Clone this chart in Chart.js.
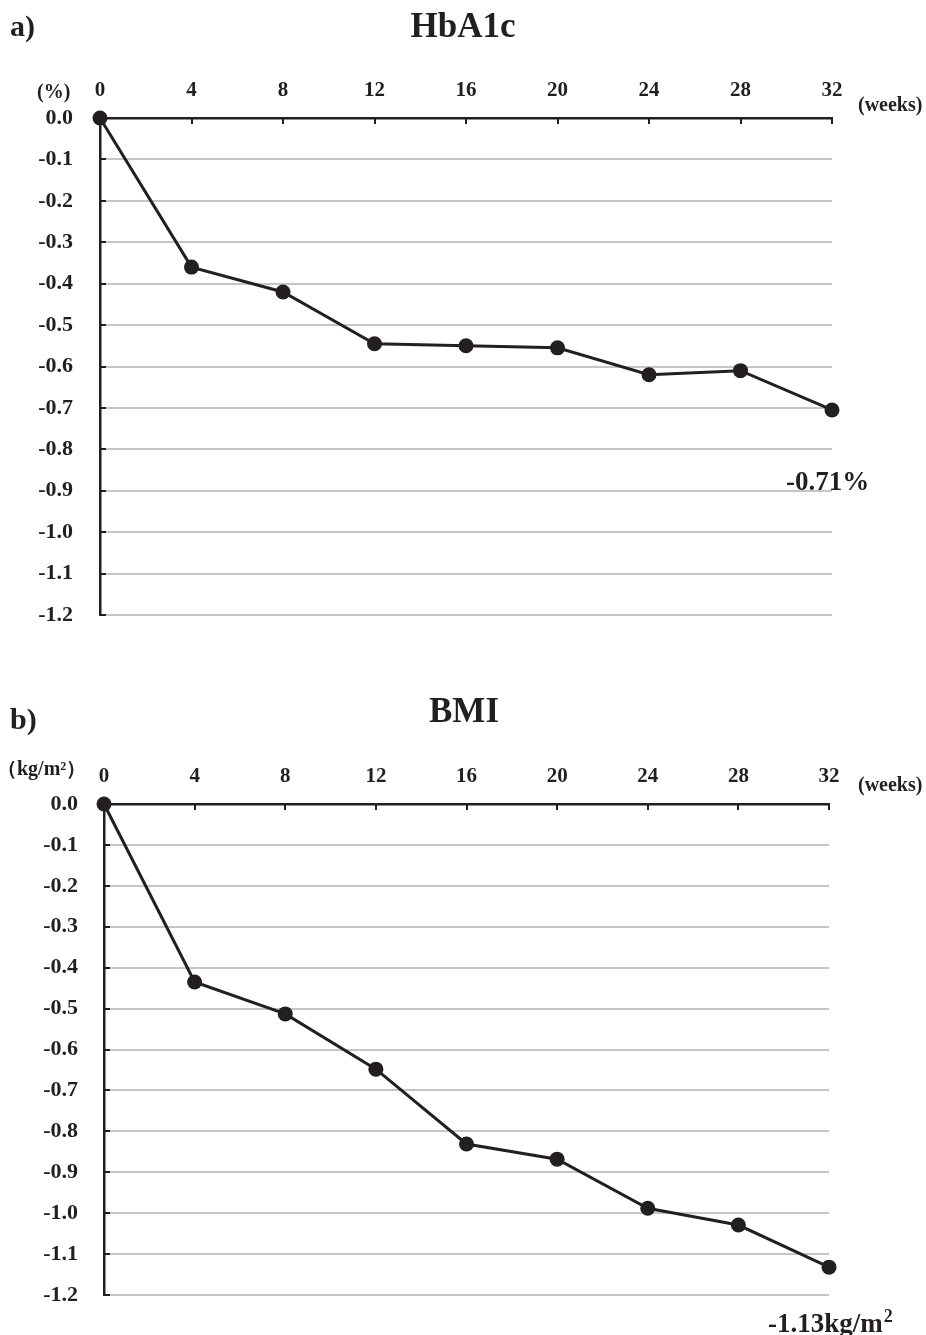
<!DOCTYPE html>
<html>
<head>
<meta charset="utf-8">
<script src="https://cdn.jsdelivr.net/npm/chart.js@4"></script>
<style>
  html, body { margin: 0; padding: 0; background: #fff; }
  body { width: 926px; height: 1335px; position: relative; overflow: hidden; }
  canvas { position: absolute; left: 0; }
</style>
</head>
<body>
<canvas id="chartA" width="926" height="660" style="top:0px"></canvas>
<canvas id="chartB" width="926" height="655" style="top:680px"></canvas>
<script>
// ---- data ----
const weeks = [0, 4, 8, 12, 16, 20, 24, 28, 32];
const hba1cChange = [0, -0.36, -0.42, -0.545, -0.55, -0.555, -0.62, -0.61, -0.705];
const bmiChange = [0, -0.435, -0.513, -0.648, -0.831, -0.868, -0.988, -1.029, -1.132];
const yMin = -1.2;
const yMax = 0;
const yStep = 0.1;
const xStep = 4;

const INK = "#231f20";
const SERIF = "'Liberation Serif', 'Times New Roman', serif";

// draws panel letter, title, units, end label and the small inward ticks
const extrasPlugin = {
  id: "extras",
  afterDraw(chart) {
    const o = chart.options.plugins.extras;
    const ctx = chart.ctx;
    const xs = chart.scales.x;
    const ys = chart.scales.y;
    const area = chart.chartArea;
    ctx.save();
    ctx.strokeStyle = INK;
    ctx.lineWidth = 2;
    // x ticks pointing down from top axis
    for (let w = xStep; w <= 32; w += xStep) {
      const px = Math.round(xs.getPixelForValue(w));
      ctx.beginPath();
      ctx.moveTo(px, area.top);
      ctx.lineTo(px, area.top + 6);
      ctx.stroke();
    }
    // y ticks pointing right from left axis
    for (let v = yMax - yStep; v >= yMin - 1e-9; v -= yStep) {
      const py = Math.round(ys.getPixelForValue(v));
      ctx.beginPath();
      ctx.moveTo(area.left, py);
      ctx.lineTo(area.left + 6, py);
      ctx.stroke();
    }
    ctx.fillStyle = INK;
    ctx.textBaseline = "alphabetic";
    ctx.textAlign = "left";
    ctx.font = "bold 30px " + SERIF;
    ctx.fillText(o.panel, o.panelX, o.panelY);
    ctx.textAlign = "center";
    ctx.font = "bold 35px " + SERIF;
    ctx.fillText(o.title, o.titleX, o.titleY);
    ctx.textAlign = "left";
    ctx.font = o.unitFont;
    ctx.fillText(o.unit, o.unitX, o.unitY);
    ctx.font = "bold 20px " + SERIF;
    ctx.fillText("(weeks)", o.weeksX, o.weeksY);
    ctx.font = "bold 27px " + SERIF;
    ctx.fillText(o.endLabel, o.endX, o.endY);
    if (o.endSup) {
      const w = ctx.measureText(o.endLabel).width;
      ctx.font = "bold 18px " + SERIF;
      ctx.fillText(o.endSup, o.endX + w + 1, o.endY - 10);
    }
    ctx.restore();
  }
};

function makeChart(id, values, layout, extras) {
  return new Chart(document.getElementById(id), {
    type: "line",
    data: {
      datasets: [{
        data: weeks.map((w, i) => ({ x: w, y: values[i] })),
        borderColor: INK,
        backgroundColor: INK,
        borderWidth: 3,
        pointRadius: 7.5,
        pointHoverRadius: 7.5,
        pointBorderWidth: 0,
        tension: 0,
        clip: false
      }]
    },
    options: {
      responsive: false,
      animation: false,
      events: [],
      layout: { padding: { left: 0, top: 0, right: layout.right, bottom: layout.bottom } },
      plugins: { legend: { display: false }, tooltip: { enabled: false }, extras: extras },
      scales: {
        x: {
          type: "linear",
          position: "top",
          min: 0,
          max: 32,
          ticks: {
            stepSize: xStep,
            color: INK,
            padding: layout.xPad,
            font: { family: SERIF, weight: "bold", size: 21 }
          },
          grid: { display: false, drawTicks: false },
          border: { display: true, color: INK, width: 2.5 },
          afterFit: s => { s.height = layout.top; }
        },
        y: {
          type: "linear",
          min: yMin,
          max: yMax,
          ticks: {
            stepSize: yStep,
            color: INK,
            padding: layout.yPad,
            font: { family: SERIF, weight: "bold", size: 22 },
            callback: v => v.toFixed(1)
          },
          grid: {
            drawTicks: false,
            lineWidth: 2,
            color: c => (Math.abs(c.tick.value) < 1e-9 ? "rgba(0,0,0,0)" : "#c6c6c6")
          },
          border: { display: true, color: INK, width: 2.5 },
          afterFit: s => { s.width = layout.left; }
        }
      }
    },
    plugins: [extrasPlugin]
  });
}

makeChart("chartA", hba1cChange,
  { left: 100, top: 118, right: 94, bottom: 45, xPad: 15, yPad: 27 },
  { panel: "a)", panelX: 10, panelY: 36, title: "HbA1c", titleX: 463, titleY: 37,
    unit: "(%)", unitFont: "bold 20px " + SERIF, unitX: 37, unitY: 98,
    weeksX: 858, weeksY: 111,
    endLabel: "-0.71%", endX: 786, endY: 490 });

makeChart("chartB", bmiChange,
  { left: 104, top: 124, right: 97, bottom: 40, xPad: 15, yPad: 26 },
  { panel: "b)", panelX: 10, panelY: 49, title: "BMI", titleX: 464, titleY: 42,
    unit: "（kg/m²）", unitFont: "bold 20px " + SERIF, unitX: -3, unitY: 95,
    weeksX: 858, weeksY: 111,
    endLabel: "-1.13kg/m", endSup: "2", endX: 768, endY: 652 });
</script>
</body>
</html>
